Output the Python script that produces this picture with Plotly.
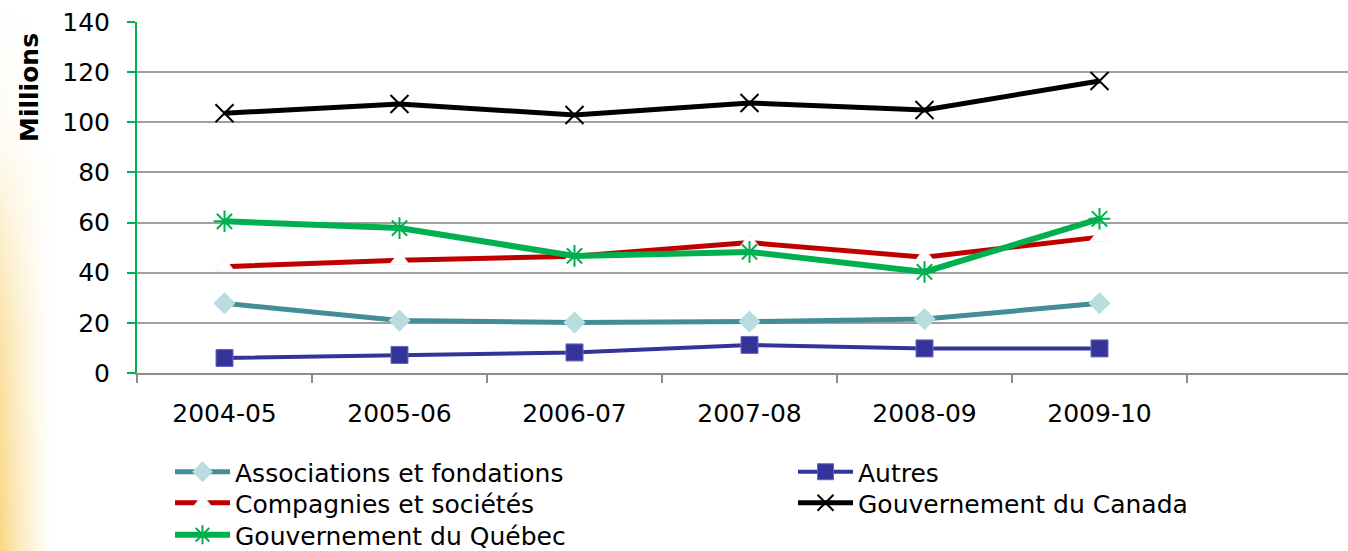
import base64
import plotly.graph_objects as go

# ---- data ----
categories = ["2004-05", "2005-06", "2006-07", "2007-08", "2008-09", "2009-10"]
associations = [27.8, 20.9, 20.1, 20.5, 21.5, 27.8]
autres = [6.0, 7.2, 8.2, 11.2, 9.8, 9.8]
compagnies = [42.4, 45.0, 46.6, 52.0, 46.2, 54.2]
gouv_canada = [103.6, 107.3, 102.9, 107.7, 104.9, 116.5]
gouv_quebec = [60.5, 57.8, 46.7, 48.3, 40.3, 61.5]
y_ticks = [0, 20, 40, 60, 80, 100, 120, 140]

W, H = 1348, 551
L, R, T, B = 137, 0, 22, 178
PW, PH = W - L - R, H - T - B

FONT = "DejaVu Sans"


def px_x(p):
    return (p - L) / PW


def px_y(p):
    return (H - B - p) / PH


fig = go.Figure()

fig.add_trace(go.Scatter(
    x=categories, y=associations, name="Associations et fondations",
    mode="lines+markers", line=dict(color="#438E96", width=5),
    marker=dict(symbol="diamond", size=17, color="#B7DDE0", line=dict(width=0)),
    legend="legend"))
fig.add_trace(go.Scatter(
    x=categories, y=autres, name="Autres",
    mode="lines+markers", line=dict(color="#333399", width=4),
    marker=dict(symbol="square", size=17, color="#333399", line=dict(width=1, color="#6666BB")),
    legend="legend2"))
fig.add_trace(go.Scatter(
    x=categories, y=compagnies, name="Compagnies et sociétés",
    mode="lines+markers", line=dict(color="#C00000", width=5),
    marker=dict(symbol="triangle-up", size=17, color="white", line=dict(width=1, color="#F2F2F2")),
    legend="legend3"))
fig.add_trace(go.Scatter(
    x=categories, y=gouv_canada, name="Gouvernement du Canada",
    mode="lines+markers", line=dict(color="black", width=5),
    marker=dict(symbol="x-thin", size=18, color="black", line=dict(width=2, color="black")),
    legend="legend4"))
fig.add_trace(go.Scatter(
    x=categories, y=gouv_quebec, name="Gouvernement du Québec",
    mode="lines+markers", line=dict(color="#00B050", width=6),
    marker=dict(symbol="asterisk", size=18, color="#00B050", line=dict(width=2, color="#00B050")),
    legend="legend5"))

# soft yellow gradient on the left edge (background decoration)
svg = (
    '<svg xmlns="http://www.w3.org/2000/svg" width="60" height="551">'
    '<defs>'
    '<linearGradient id="h" x1="0" x2="1" y1="0" y2="0">'
    '<stop offset="0" stop-color="#F8D47A" stop-opacity="0.95"/>'
    '<stop offset="0.5" stop-color="#FCE9B8" stop-opacity="0.6"/>'
    '<stop offset="1" stop-color="#FFFFFF" stop-opacity="0"/>'
    '</linearGradient>'
    '<linearGradient id="v" x1="0" x2="0" y1="0" y2="1">'
    '<stop offset="0" stop-color="#FFFFFF" stop-opacity="1"/>'
    '<stop offset="0.25" stop-color="#FFFFFF" stop-opacity="0.9"/>'
    '<stop offset="0.6" stop-color="#FFFFFF" stop-opacity="0.3"/>'
    '<stop offset="1" stop-color="#FFFFFF" stop-opacity="0"/>'
    '</linearGradient>'
    '</defs>'
    '<rect width="60" height="551" fill="url(#h)"/>'
    '<rect width="60" height="551" fill="url(#v)"/>'
    '</svg>'
)
src = "data:image/svg+xml;base64," + base64.b64encode(svg.encode()).decode()

LEG_FONT = dict(family=FONT, size=25, color="black")


def leg(xp, yp):
    return dict(x=px_x(xp), y=px_y(yp), xanchor="left", yanchor="middle",
                orientation="v", bgcolor="rgba(0,0,0,0)", borderwidth=0,
                font=LEG_FONT, itemwidth=55, tracegroupgap=0)


fig.update_layout(
    width=W, height=H,
    margin=dict(l=L, r=R, t=T, b=B, pad=0, autoexpand=False),
    paper_bgcolor="white", plot_bgcolor="rgba(0,0,0,0)",
    font=dict(family=FONT, size=25, color="black"),
    showlegend=True,
    images=[dict(source=src, xref="paper", yref="paper",
                 x=px_x(0), y=px_y(0), sizex=60 / PW, sizey=H / PH,
                 xanchor="left", yanchor="top", sizing="stretch", layer="below")],
    legend=leg(170, 472),
    legend3=leg(170, 503),
    legend5=leg(170, 535),
    legend2=leg(793, 472),
    legend4=leg(793, 503),
    annotations=[dict(text="<b>Millions</b>", textangle=-90, xref="paper", yref="paper",
                      x=px_x(29), y=px_y(88), xanchor="center", yanchor="middle",
                      showarrow=False, font=dict(family=FONT, size=25, color="black"))],
    xaxis=dict(
        type="category", categoryorder="array", categoryarray=categories,
        range=[-0.5, (W - R - L) / 175 - 0.5], automargin=False,
        showgrid=False, zeroline=False,
        showline=True, linecolor="#8C8C8C", linewidth=2,
        ticks="outside", tickson="boundaries", ticklen=8, tickwidth=2, tickcolor="#8C8C8C",
        ticklabelstandoff=17,
        tickfont=dict(family=FONT, size=25),
    ),
    yaxis=dict(
        range=[0, 140], tickvals=y_ticks, automargin=False,
        showgrid=True, gridcolor="#A0A0A0", gridwidth=2,
        zeroline=False,
        showline=True, linecolor="#00B050", linewidth=2,
        ticks="outside", ticklen=8, tickwidth=2, tickcolor="#00B050",
        ticklabelstandoff=12,
        tickfont=dict(family=FONT, size=25),
    ),
)

fig.write_html("out.html", config={"displayModeBar": False},
               post_script="document.body.style.margin='0';")
